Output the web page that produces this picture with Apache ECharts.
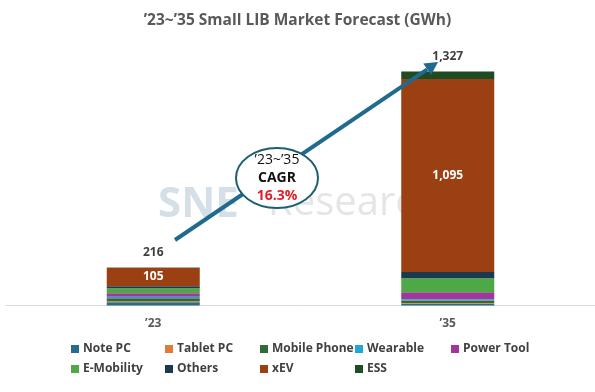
<!DOCTYPE html>
<html><head><meta charset="utf-8">
<script src="https://cdn.jsdelivr.net/npm/echarts@6/dist/echarts.min.js"></script>
<style>html,body{margin:0;padding:0;background:#fff}#c{width:595px;height:392px}</style>
</head><body><div id="c"></div>
<script>
const categories = ["\u201923", "\u201935"];
const seriesNames = ["Note PC","Tablet PC","Mobile Phone","Wearable","Power Tool","E-Mobility","Others","xEV","ESS"];
const notePC = [18, 10];
const tabletPC = [6, 4];
const mobilePhone = [17, 15];
const wearable = [8, 6];
const powerTool = [21, 40];
const eMobility = [28, 80];
const others = [11, 35];
const xEV = [105, 1095];
const ESS = [2, 42];
const totals = [216, 1327];
const colors = ["#2C6A8C","#E07B39","#2E6B35","#22A6D6","#A0389B","#4EA845","#1B3A50","#9A4013","#1E4A24"];

const values = [notePC, tabletPC, mobilePhone, wearable, powerTool, eMobility, others, xEV, ESS];
const font = "'Open Sans', 'DejaVu Sans', sans-serif";
const fmt = v => v.toLocaleString('en-US');

const series = seriesNames.map((name, i) => {
  const s = {
    name, type: 'bar', stack: 'all', barWidth: 93,
    itemStyle: { color: colors[i] },
    data: values[i]
  };
  if (name === 'xEV') {
    s.label = { show: true, position: 'inside', color: '#fff', fontWeight: 'bold', fontSize: 12, fontFamily: font,
      formatter: p => fmt(p.value) };
  }
  if (name === 'ESS') {
    s.label = { show: true, position: 'top', distance: 9, color: '#404040', fontWeight: 'bold', fontSize: 12, fontFamily: font,
      formatter: p => fmt(totals[p.dataIndex]) };
  }
  return s;
});

// legend columns (5 per row, 2 rows)
const colLefts = [66, 160, 255, 350, 446];
const legends = colLefts.map((left, c) => ({
  data: [seriesNames[c], seriesNames[c + 5]].filter(Boolean),
  orient: 'vertical', left, top: 338,
  itemWidth: 8, itemHeight: 8, itemGap: 8,
  icon: 'rect',
  textStyle: { color: '#404040', fontSize: 12, fontWeight: 'bold', fontFamily: font, padding: [0,0,0,-1] }
}));

const chart = echarts.init(document.getElementById('c'), null, { renderer: 'canvas' });

// arrow geometry (annotation)
const tip = [438, 62], tail = [175, 240];
const dx = tip[0] - tail[0], dy = tip[1] - tail[1];
const L = Math.hypot(dx, dy), ux = dx / L, uy = dy / L;
const hl = 13, hw = 7;
const base = [tip[0] - hl * ux, tip[1] - hl * uy];
const px = -uy, py = ux;

chart.setOption({
  animation: false,
  title: {
    text: '\u201923~\u201935 Small LIB Market Forecast (GWh)',
    left: 'center', top: 8,
    textStyle: { color: '#595959', fontSize: 15.5, fontWeight: 'bold', fontFamily: font }
  },
  legend: legends,
  grid: { left: 6, width: 591, top: 41, bottom: 86.5 },
  xAxis: {
    type: 'category', data: categories,
    axisLine: { lineStyle: { color: '#D9D9D9', width: 1 } },
    axisTick: { show: false },
    axisLabel: { color: '#595959', fontSize: 12, fontWeight: 'bold', fontFamily: font, margin: 12 }
  },
  yAxis: { type: 'value', min: 0, max: 1500, show: false, splitLine: { show: false } },
  graphic: [
    { type: 'text', z: 0, left: 158, top: 184, style: { text: 'SNE', fill: 'rgba(150,175,195,0.4)', font: 'bold 42px ' + font } },
    { type: 'text', z: 0, left: 268, top: 184, style: { text: 'Research', fill: 'rgba(170,170,170,0.3)', font: '40px ' + font } },
    { type: 'line', z: 10, shape: { x1: tail[0], y1: tail[1], x2: base[0], y2: base[1] },
      style: { stroke: '#1F6A8E', lineWidth: 4 } },
    { type: 'polygon', z: 10, shape: { points: [tip, [base[0] + hw * px, base[1] + hw * py], [base[0] - hw * px, base[1] - hw * py]] },
      style: { fill: '#1F6A8E' } },
    { type: 'ellipse', z: 11, shape: { cx: 277, cy: 178, rx: 41, ry: 30 },
      style: { fill: '#fff', stroke: '#1D5F6E', lineWidth: 2 } },
    { type: 'text', z: 12, x: 277, y: 160, style: { text: '\u201923~\u201935', fill: '#111', font: '14px ' + font, textAlign: 'center', textVerticalAlign: 'middle' } },
    { type: 'text', z: 12, x: 277, y: 178, style: { text: 'CAGR', fill: '#111', font: 'bold 14px ' + font, textAlign: 'center', textVerticalAlign: 'middle' } },
    { type: 'text', z: 12, x: 277, y: 196, style: { text: '16.3%', fill: '#E0202A', font: 'bold 14px ' + font, textAlign: 'center', textVerticalAlign: 'middle' } }
  ],
  series
});
</script></body></html>
